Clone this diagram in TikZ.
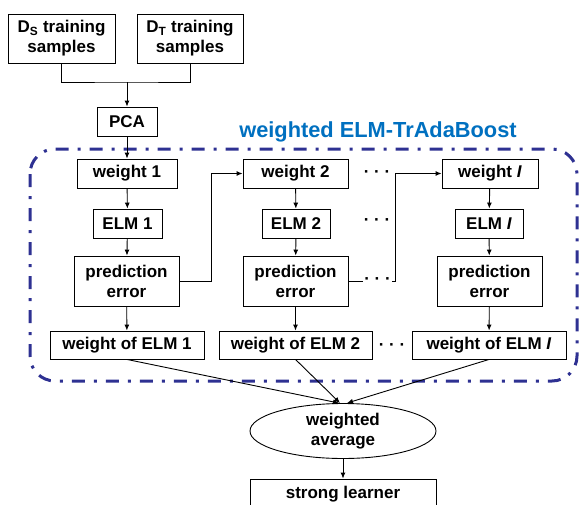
\documentclass[tikz,border=0pt]{standalone}
\usepackage{fontspec}
\setmainfont{Liberation Sans}
\usetikzlibrary{arrows.meta,shapes.geometric}
\definecolor{titleblue}{RGB}{0,112,192}
\definecolor{framenavy}{RGB}{46,49,146}
\tikzset{
  stage/.style={draw, line width=0.9pt, inner sep=0pt, align=center, minimum height=29pt,
    font=\bfseries\fontsize{17}{20}\selectfont},
  dots/.style={inner sep=1pt, font=\bfseries\fontsize{17}{20}\selectfont},
  flow/.style={line width=0.9pt, -{Latex[length=6pt,width=5pt]}},
}

\begin{document}
\begin{tikzpicture}[x=1pt,y=-1pt]
	%%%%% START %%%%%
	\useasboundingbox (0,0) rectangle (579,504);
	
	% boosting frame
	\draw[framenavy, line width=3pt, rounded corners=25pt,
	  dash pattern=on 13pt off 9pt on 3pt off 9pt] (30,149) rectangle (577,381);
	\node[font=\bfseries\fontsize{21.8}{24}\selectfont, text=titleblue] (title) at (378,132) {weighted ELM-TrAdaBoost};
	
	% inputs
	\node[stage, minimum width=107pt, minimum height=49pt] (ds) at (61.5,38.5) {D\textsubscript{S} training\\samples};
	\node[stage, minimum width=106pt, minimum height=49pt] (dt) at (190,38.5) {D\textsubscript{T} training\\samples};
	\node[stage, minimum width=60pt] (pca) at (127,121.5) {PCA};
	
	\coordinate (join) at (127,82);
	\draw[line width=0.9pt] (ds.south) |- (join) -| (dt.south);
	\draw[flow] (join) -- (pca);
	
	% weak learners
	\node[stage, minimum width=100pt] (w1) at (127,173.5) {weight 1};
	\node[stage, minimum width=105pt] (w2) at (295.5,173.5) {weight 2};
	\node[stage, minimum width=96pt] (wI) at (490,173.5) {weight \textit{I}};
	
	\node[stage, minimum width=69pt] (e1) at (127.5,223.5) {ELM 1};
	\node[stage, minimum width=68pt] (e2) at (296,223.5) {ELM 2};
	\node[stage, minimum width=68pt] (eI) at (489,223.5) {ELM \textit{I}};
	
	\node[stage, minimum width=105pt, minimum height=50pt] (p1) at (126.5,281) {prediction\\error};
	\node[stage, minimum width=105pt, minimum height=50pt] (p2) at (295.5,281) {prediction\\error};
	\node[stage, minimum width=105pt, minimum height=50pt] (pI) at (489.5,281) {prediction\\error};
	
	\node[stage, minimum width=154pt, minimum height=28pt] (o1) at (127,345) {weight of ELM 1};
	\node[stage, minimum width=153pt, minimum height=28pt] (o2) at (295.5,345) {weight of ELM 2};
	\node[stage, minimum width=154pt, minimum height=28pt] (oI) at (489,345) {weight of ELM \textit{I}};
	
	\node[dots] (d1) at (377,174) {· · ·};
	\node[dots] (d2) at (377,222) {· · ·};
	\node[dots] (d4) at (392,347) {· · ·};
	
	\draw[flow] (pca) -- (w1);
	\draw[flow] (w1) -- (e1);
	\draw[flow] (e1) -- (p1);
	\draw[flow] (p1) -- (o1);
	\draw[flow] (w2) -- (e2);
	\draw[flow] (e2) -- (p2);
	\draw[flow] (p2) -- (o2);
	\draw[flow] (wI) -- (eI);
	\draw[flow] (eI) -- (pI);
	\draw[flow] (pI) -- (oI);
	
	\draw[flow] (p1.east) -- ++(32,0) |- (w2);
	\draw[flow] (p2.east) -- ++(47,0) node[dots, pos=0.62, fill=white] (d3) {· · ·} |- (wI);
	
	% combination
	\node[stage, ellipse, minimum width=186pt, minimum height=55pt] (avg) at (343,431) {weighted\\average};
	\node[stage, minimum width=186pt, minimum height=31pt] (strong) at (343,494.5) {strong learner};
	
	\draw[flow] (o1.south) -- ([xshift=-4pt]avg.north);
	\draw[flow] (o2.south) -- ([xshift=-3pt]avg.north);
	\draw[flow] (oI.south) -- ([xshift=4pt]avg.north);
	\draw[flow] (avg) -- (strong);
	%%%%% END %%%%%
\end{tikzpicture}
\end{document}
